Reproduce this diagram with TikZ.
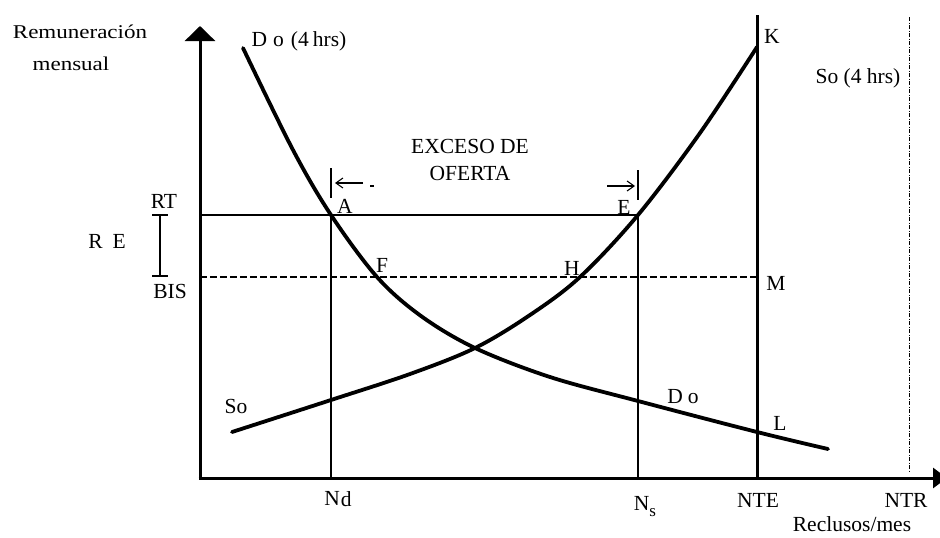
\documentclass[tikz,border=0pt]{standalone}
\usepackage{fontspec}
\setmainfont{Liberation Serif}
\newfontfamily\widefont{Liberation Serif}[FakeStretch=1.18]
\usetikzlibrary{arrows.meta}
\begin{document}
\begin{tikzpicture}[x=1pt,y=-1pt,
  lbl/.style={font=\fontsize{21.5}{21.5}\selectfont, inner sep=0pt, anchor=base},
  widelbl/.style={font=\widefont\fontsize{19.5}{19.5}\selectfont, inner sep=0pt, anchor=base},
  axisline/.style={line width=3pt},
  curve/.style={line width=3.8pt, line cap=round, line join=round},
  guide/.style={line width=1.1pt},
  dashguide/.style={line width=1.1pt, dash pattern=on 7pt off 3pt},
  dashdotline/.style={line width=1pt, dash pattern=on 4pt off 1.5pt on 1pt off 1.5pt},
  excess/.style={line width=1.1pt, -{Straight Barb[length=7pt,width=10pt]}}]
\useasboundingbox (0,0) rectangle (940,538);
% key coordinates
\coordinate (O) at (200,478);
\coordinate (Ytip) at (200,26);
\coordinate (Xtip) at (947,478);
\coordinate (Ocorner) at (198.5,478);
\coordinate (Obottom) at (200,479.5);
\coordinate (A) at (331,215);
\coordinate (E) at (638,215);
\coordinate (F) at (377,277);
\coordinate (H) at (580,277);
\coordinate (X) at (475,348);
\coordinate (K) at (757,47);
\coordinate (L) at (757,432);
\coordinate (M) at (757,277);
\coordinate (RTaxis) at (200,215);
\coordinate (BISaxis) at (200,277);
\coordinate (NdBase) at (331,478);
\coordinate (NsBase) at (638,478);
\coordinate (NTEBase) at (757,478);
\coordinate (NTETop) at (757,15);
\coordinate (NTRTop) at (909,17);
\coordinate (NTRBase) at (909,473);
% demand curve points
\coordinate (D0) at (243,48);
\coordinate (D1) at (293,150);
\coordinate (D2) at (421,316);
\coordinate (D3) at (550,377);
\coordinate (Dn) at (638,401);
\coordinate (D4) at (828,449);
% supply curve points
\coordinate (S0) at (232,432);
\coordinate (Sd) at (331,400);
\coordinate (S1) at (410,374);
\coordinate (S2) at (530,315);
\coordinate (S3) at (700,133);
% axes
\draw[axisline, -{Triangle[length=15pt,width=30pt]}] (Obottom) -- (Ytip);
\draw[axisline, -{Triangle[length=14pt,width=20pt]}] (Ocorner) -- (Xtip);
% guide lines
\draw[guide] (RTaxis) -- (E);
\draw[dashguide] (BISaxis) -- (M);
\draw[guide] (NdBase) -- (A);
\draw[guide] (NsBase) -- (E);
\draw[line width=3pt] (NTEBase) -- (NTETop);
\draw[dashdotline] (NTRTop) -- (NTRBase);
% bracket R E
\coordinate (Bt) at (160,215);
\coordinate (Bb) at (160,276);
\coordinate (Btl) at (152,215);
\coordinate (Btr) at (168,215);
\coordinate (Bbl) at (152,276);
\coordinate (Bbr) at (168,276);
\draw[guide] (Bt) -- (Bb);
\draw[guide] (Btl) -- (Btr);
\draw[guide] (Bbl) -- (Bbr);
% excess markers
\coordinate (Pa1) at (331,168);
\coordinate (Pa2) at (331,198);
\coordinate (Pe1) at (638,170);
\coordinate (Pe2) at (638,200);
\coordinate (Aa1) at (363,183);
\coordinate (Aa2) at (335,183);
\coordinate (Ea1) at (607,186);
\coordinate (Ea2) at (635,186);
\coordinate (Dt1) at (370,186);
\coordinate (Dt2) at (374,186);
\draw[guide] (Pa1) -- (Pa2);
\draw[guide] (Pe1) -- (Pe2);
\draw[excess] (Aa1) -- (Aa2);
\draw[excess] (Ea1) -- (Ea2);
\draw[guide] (Dt1) -- (Dt2);
% curves
\draw[curve] plot[smooth, tension=0.55] coordinates {(D0) (D1) (A) (F) (D2) (X) (D3) (Dn) (L) (D4)};
\draw[curve] plot[smooth, tension=0.55] coordinates {(S0) (Sd) (S1) (X) (S2) (H) (E) (S3) (K)};
% labels
\node[widelbl] (remun) at (80,38) {Remuneración};
\node[widelbl] (mens) at (71,70) {mensual};
\node[lbl] (do4) at (299,46) {D\hspace{6pt}o\hspace{7pt}(4\hspace{4pt}hrs)};
\node[lbl] (kl) at (772,43) {K};
\node[lbl] (so4) at (858,83) {So (4 hrs)};
\node[lbl] (exc1) at (470,153) {EXCESO DE};
\node[lbl] (exc2) at (470,180) {OFERTA};
\node[lbl] (rtl) at (164,208) {RT};
\node[lbl] (rel) at (107,248) {R\hspace{10pt}E};
\node[lbl] (bisl) at (170,298) {BIS};
\node[lbl] (al) at (345,213) {A};
\node[lbl] (fl) at (382,272) {F};
\node[lbl] (el) at (624,214) {E};
\node[lbl] (hl) at (572,275) {H};
\node[lbl] (ml) at (776,290) {M};
\node[lbl] (sol) at (236,413) {So};
\node[lbl] (dol) at (683,403) {D\hspace{5pt}o};
\node[lbl] (ll) at (780,430) {L};
\node[lbl] (ndl) at (338,505) {N\kern1pt\raisebox{-1.5pt}{d}};
\node[lbl] (nsl) at (645,510) {N\raisebox{-6pt}{\fontsize{17}{17}\selectfont s}};
\node[lbl] (ntel) at (758,507) {NTE};
\node[lbl] (ntrl) at (906,507) {NTR};
\node[lbl] (recl) at (852,531) {Reclusos/mes};
\end{tikzpicture}
\end{document}
